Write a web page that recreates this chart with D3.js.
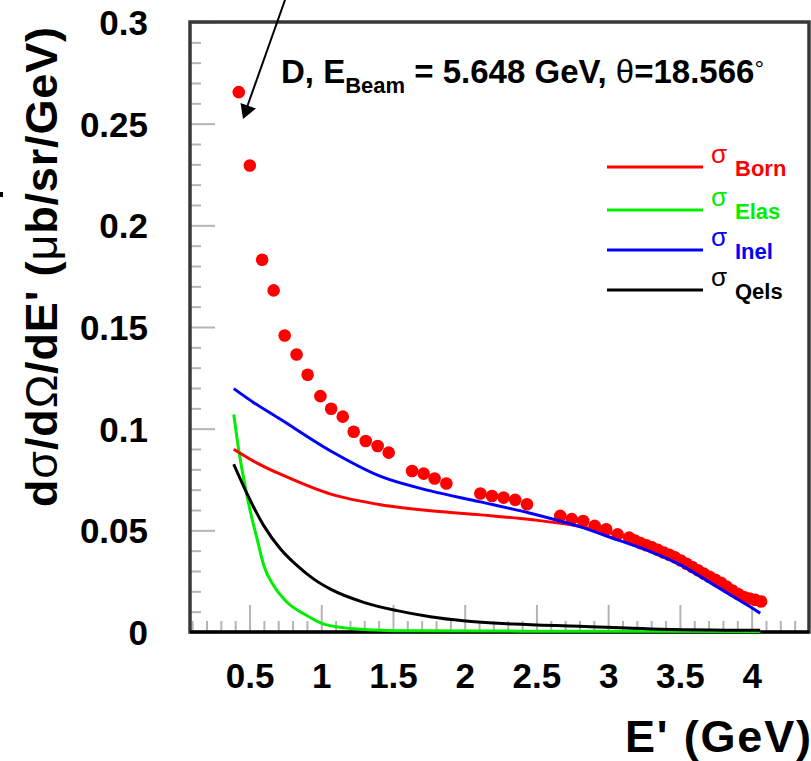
<!DOCTYPE html>
<html>
<head>
<meta charset="utf-8">
<title>D, E Beam = 5.648 GeV, theta = 18.566</title>
<script src="https://d3js.org/d3.v7.min.js"></script>
<style>
  body { margin: 0; background: #fff; }
  svg { display: block; font-family: "Liberation Sans", Arial, Helvetica, sans-serif; }
  .axis text { font-size: 35px; font-weight: bold; fill: #000; }
  .axis line { stroke: #b4b4b4; stroke-width: 2; }
  .axis path { display: none; }
</style>
</head>
<body>
<script>
// red dots (data)
var dataE = [0.425, 0.502, 0.588, 0.668, 0.745, 0.828, 0.905, 0.994, 1.069, 1.150, 1.226, 1.310, 1.393, 1.470,
             1.633, 1.714, 1.790, 1.872, 2.109, 2.190, 2.271, 2.352, 2.434,
             2.666, 2.746, 2.826, 2.906, 2.986, 3.066, 3.146, 3.186, 3.226, 3.266, 3.306, 3.346, 3.386,
             3.426, 3.466, 3.506, 3.546, 3.586, 3.626, 3.666, 3.706, 3.746, 3.786, 3.826, 3.866, 3.906,
             3.946, 3.986, 4.026, 4.066];
var dataSigma = [0.2655, 0.2294, 0.1831, 0.168, 0.1458, 0.1365, 0.1265, 0.116, 0.1098, 0.1059, 0.0985, 0.0939, 0.0915, 0.0882,
                 0.0792, 0.0779, 0.0755, 0.0730, 0.0681, 0.0669, 0.0661, 0.0650, 0.0628,
                 0.0571, 0.0555, 0.0546, 0.0522, 0.0505, 0.0480, 0.0464, 0.0450, 0.0437, 0.0427, 0.0416, 0.0404, 0.0391,
                 0.0380, 0.0367, 0.0352, 0.0336, 0.0320, 0.0304, 0.0288, 0.0272, 0.0257, 0.0242, 0.0223, 0.0204, 0.0187,
                 0.0172, 0.0165, 0.0158, 0.0150];

// model curves
var bornE = [0.39, 0.55, 0.716, 1.066, 1.414, 1.762, 2.11, 2.458, 2.8, 3.15, 3.43, 3.7, 3.9, 4.06];
var bornSigma = [0.0899, 0.0832, 0.0776, 0.0678, 0.0626, 0.0596, 0.0576, 0.0553, 0.0520, 0.0460, 0.0386, 0.0290, 0.0203, 0.0145];

var elasE = [0.39, 0.426, 0.46, 0.507, 0.553, 0.60, 0.669, 0.762, 0.902, 1.017, 1.25, 1.6, 2.5, 4.06];
var elasSigma = [0.107, 0.089, 0.0751, 0.0588, 0.0457, 0.0326, 0.0227, 0.0146, 0.008, 0.0039, 0.0015, 0.0006, 0.0004, 0.0003];

var inelE = [0.39, 0.53, 0.716, 1.066, 1.414, 1.762, 2.11, 2.458, 2.8, 3.06, 3.29, 3.51, 3.757, 3.99, 4.06];
var inelSigma = [0.1197, 0.1128, 0.1046, 0.089, 0.0765, 0.0694, 0.0640, 0.0584, 0.0518, 0.0454, 0.0397, 0.0328, 0.0223, 0.0124, 0.0092];

var qelsE = [0.39, 0.484, 0.60, 0.716, 0.832, 0.948, 1.064, 1.296, 1.528, 1.76, 1.99, 2.34, 2.8, 3.3, 4.06];
var qelsSigma = [0.0825, 0.0678, 0.0522, 0.0408, 0.0326, 0.026, 0.0211, 0.0146, 0.0105, 0.0075, 0.0055, 0.0039, 0.0028, 0.0015, 0.0008];

var xTicks = [0.5, 1, 1.5, 2, 2.5, 3, 3.5, 4];
var xTickLabels = ["0.5", "1", "1.5", "2", "2.5", "3", "3.5", "4"];
var yTicks = [0, 0.05, 0.1, 0.15, 0.2, 0.25, 0.3];
var yTickLabels = ["0", "0.05", "0.1", "0.15", "0.2", "0.25", "0.3"];

var legendNames = ["Born", "Elas", "Inel", "Qels"];
var legendColors = ["#ff0000", "#00ee00", "#0000ff", "#000000"];

var width = 811;
var height = 761;
var margin = {top: 22, left: 190, right: 2, bottom: 129};

var svg = d3.select("body")
  .append("svg")
  .attr("width", width)
  .attr("height", height);

svg.append("rect").attr("width", width).attr("height", height).attr("fill", "#fff");

var xScale = d3.scaleLinear()
  .domain([0.085, 4.40])
  .range([margin.left, width - margin.right]);

var yScale = d3.scaleLinear()
  .domain([0, 0.3])
  .range([height - margin.bottom, margin.top]);

// minor ticks: every 0.1 on x, every 0.01 on y
function notMajor(v, step) { return Math.abs(v / step - Math.round(v / step)) > 1e-6; }
var xMinor = d3.range(1, 44).map(function(i) { return i / 10; }).filter(function(v) { return notMajor(v, 0.5); });
var yMinor = d3.range(1, 30).map(function(i) { return i / 100; }).filter(function(v) { return notMajor(v, 0.05); });

svg.append("g")
  .attr("class", "axis")
  .attr("transform", `translate(0,${height - margin.bottom})`)
  .call(d3.axisBottom(xScale).tickValues(xMinor).tickSize(-11).tickFormat(""));

svg.append("g")
  .attr("class", "axis")
  .attr("transform", `translate(0,${height - margin.bottom})`)
  .call(d3.axisBottom(xScale).tickValues(xTicks).tickSize(-27).tickPadding(31)
    .tickFormat(function(d, i) { return xTickLabels[i]; }));

svg.append("g")
  .attr("class", "axis")
  .attr("transform", `translate(${margin.left},0)`)
  .call(d3.axisLeft(yScale).tickValues(yMinor).tickSize(-11).tickFormat(""));

svg.append("g")
  .attr("class", "axis")
  .attr("transform", `translate(${margin.left},0)`)
  .call(d3.axisLeft(yScale).tickValues(yTicks).tickSize(-25).tickPadding(42)
    .tickFormat(function(d, i) { return yTickLabels[i]; }))
  .selectAll("text").attr("dy", "0.36em");

// frame
svg.append("rect")
  .attr("x", margin.left)
  .attr("y", margin.top)
  .attr("width", width - margin.right - margin.left)
  .attr("height", height - margin.bottom - margin.top)
  .attr("fill", "none")
  .attr("stroke", "#383838")
  .attr("stroke-width", 3.5);
svg.append("line")
  .attr("x1", margin.left).attr("x2", width - margin.right)
  .attr("y1", height - margin.bottom).attr("y2", height - margin.bottom)
  .attr("stroke", "#000").attr("stroke-width", 3);

// data points
svg.selectAll("circle.pt")
  .data(dataE)
  .enter()
  .append("circle")
  .attr("class", "pt")
  .attr("cx", function(d) { return xScale(d); })
  .attr("cy", function(d, i) { return yScale(dataSigma[i]); })
  .attr("r", 6.3)
  .attr("fill", "#ff0000");

function drawCurve(es, ss, color, curve) {
  var line = d3.line()
    .x(function(d) { return xScale(d[0]); })
    .y(function(d) { return yScale(d[1]); })
    .curve(curve);
  svg.append("path")
    .datum(es.map(function(e, i) { return [e, ss[i]]; }))
    .attr("d", line)
    .attr("fill", "none")
    .attr("stroke", color)
    .attr("stroke-width", 3);
}
drawCurve(elasE, elasSigma, legendColors[1], d3.curveMonotoneX);
drawCurve(qelsE, qelsSigma, legendColors[3], d3.curveMonotoneX);
drawCurve(bornE, bornSigma, legendColors[0], d3.curveCatmullRom.alpha(0.5));
drawCurve(inelE, inelSigma, legendColors[2], d3.curveCatmullRom.alpha(0.5));

// legend
var legendY = [167, 210, 250, 290];
legendNames.forEach(function(name, i) {
  svg.append("line")
    .attr("x1", 607).attr("x2", 703)
    .attr("y1", legendY[i]).attr("y2", legendY[i])
    .attr("stroke", legendColors[i])
    .attr("stroke-width", 3);
  svg.append("text")
    .attr("x", 711)
    .attr("y", legendY[i] - 4)
    .attr("font-size", 26)
    .attr("fill", legendColors[i])
    .text("σ");
  svg.append("text")
    .attr("x", 735)
    .attr("y", legendY[i] + 9)
    .attr("font-size", 22)
    .attr("font-weight", "bold")
    .attr("fill", legendColors[i])
    .text(name);
});

// title
var title = svg.append("text")
  .attr("x", 281)
  .attr("y", 83)
  .attr("font-size", 33)
  .attr("font-weight", "bold");
title.append("tspan").text("D, E");
title.append("tspan").attr("font-size", 22).attr("dy", 10).text("Beam");
title.append("tspan").attr("dy", -10).text(" = 5.648 GeV, ");
title.append("tspan").attr("font-weight", "normal").text("θ");
title.append("tspan").text("=18.566");
title.append("tspan").attr("font-weight", "normal").attr("font-size", 24).attr("dy", -6).text("°");

// arrow
svg.append("line")
  .attr("x1", 285).attr("y1", 0)
  .attr("x2", 246).attr("y2", 110)
  .attr("stroke", "#000").attr("stroke-width", 2);
svg.append("path")
  .attr("d", "M243,119 L240.5,103 L256,108.5 Z")
  .attr("fill", "#000");
svg.append("rect").attr("x", 0).attr("y", 192).attr("width", 3).attr("height", 5).attr("fill", "#000");

// axis titles
svg.append("text")
  .attr("x", 625)
  .attr("y", 752)
  .attr("font-size", 45)
  .attr("font-weight", "bold")
  .attr("textLength", 186)
  .text("E' (GeV)");

var yTitle = svg.append("text")
  .attr("transform", "translate(57,507) rotate(-90)")
  .attr("x", 0)
  .attr("y", 0)
  .attr("font-size", 45)
  .attr("font-weight", "bold")
  .attr("textLength", 480);
yTitle.append("tspan").text("d");
yTitle.append("tspan").attr("font-weight", "normal").text("σ");
yTitle.append("tspan").text("/d");
yTitle.append("tspan").attr("font-weight", "normal").text("Ω");
yTitle.append("tspan").text("/dE' (");
yTitle.append("tspan").attr("font-weight", "normal").text("μ");
yTitle.append("tspan").text("b/sr/GeV)");
</script>
</body>
</html>
